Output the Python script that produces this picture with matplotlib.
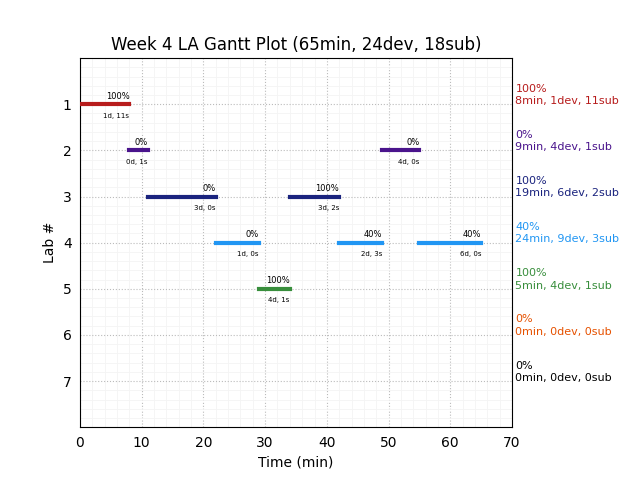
import matplotlib
matplotlib.use("Agg")
import matplotlib.pyplot as plt
from matplotlib.ticker import AutoMinorLocator

labs = [1, 2, 3, 4, 5, 6, 7]
lab_colors = ["#b71c1c", "#4a148c", "#1a237e", "#2196f3", "#388e3c", "#e65100", "#000000"]
# segments per lab: (start, end, pct, sub-label)
segments = {
    1: [(0, 8, "100%", "1d, 11s")],
    2: [(8, 11, "0%", "0d, 1s"), (49, 55, "0%", "4d, 0s")],
    3: [(11, 22, "0%", "3d, 0s"), (34, 42, "100%", "3d, 2s")],
    4: [(22, 29, "0%", "1d, 0s"), (42, 49, "40%", "2d, 3s"), (55, 65, "40%", "6d, 0s")],
    5: [(29, 34, "100%", "4d, 1s")],
    6: [],
    7: [],
}
summary_pct = ["100%", "0%", "100%", "40%", "100%", "0%", "0%"]
summary_txt = ["8min, 1dev, 11sub", "9min, 4dev, 1sub", "19min, 6dev, 2sub",
               "24min, 9dev, 3sub", "5min, 4dev, 1sub", "0min, 0dev, 0sub",
               "0min, 0dev, 0sub"]

fig = plt.figure(figsize=(6.4, 4.8), dpi=100)
ax = fig.add_axes([0.125, 0.11, 0.675, 0.769])

for lab, color in zip(labs, lab_colors):
    for (s, e, pct, sub) in segments[lab]:
        ax.plot([s, e], [lab, lab], color=color, linewidth=3, solid_capstyle="projecting", zorder=3)
        ax.text(e, lab - 0.08, pct, ha="right", va="bottom", fontsize=6)
        ax.text(e, lab + 0.18, sub, ha="right", va="top", fontsize=5)

for i, (lab, color) in enumerate(zip(labs, lab_colors)):
    ax.text(1.008, lab + 0.04, summary_pct[i] + "\n" + summary_txt[i],
            transform=ax.get_yaxis_transform(), color=color, fontsize=8,
            ha="left", va="bottom", linespacing=1.3)

ax.set_xlim(0, 70)
ax.set_ylim(8, 0)
ax.set_yticks(labs)
ax.set_xticks(range(0, 71, 10))
ax.xaxis.set_minor_locator(AutoMinorLocator())
ax.yaxis.set_minor_locator(AutoMinorLocator())
ax.grid(which="major", color="#bbbbbb", linestyle=":", linewidth=0.8)
ax.grid(which="minor", color="#f4f4f4", linestyle="-", linewidth=0.6)
ax.tick_params(which="both", length=0)
ax.tick_params(labelsize=10, pad=6)
ax.set_axisbelow(True)
ax.set_xlabel("Time (min)")
ax.set_ylabel("Lab #")
ax.set_title("Week 4 LA Gantt Plot (65min, 24dev, 18sub)", fontsize=12)

fig.savefig("out.png", dpi=100)
